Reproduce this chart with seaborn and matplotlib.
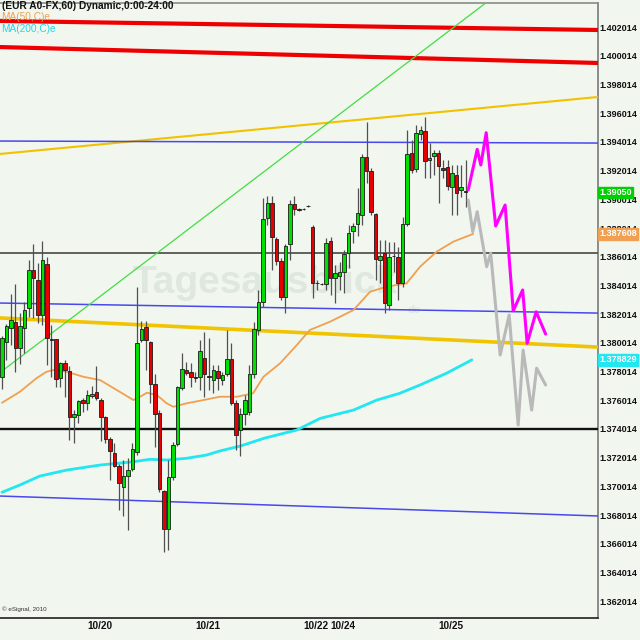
import matplotlib
matplotlib.use("Agg")
import matplotlib.pyplot as plt
import numpy as np
import pandas as pd
import seaborn as sns

# hourly EUR/USD bars (oldest first)
opens = [1.37763, 1.38007, 1.38105, 1.38147, 1.37965, 1.38105, 1.38244, 1.38509, 1.38439, 1.38196,
         1.38551, 1.38028, 1.38028, 1.37756, 1.37861, 1.37805, 1.37484, 1.37498, 1.37603, 1.37582,
         1.37631, 1.37659, 1.37603, 1.37484, 1.37331, 1.37234, 1.37143, 1.36997, 1.37073, 1.37122,
         1.37241, 1.38021, 1.38112, 1.38007, 1.37715, 1.37512, 1.36969, 1.36704, 1.37066, 1.37296,
         1.37687, 1.37812, 1.37798, 1.37763, 1.37763, 1.37896, 1.37770, 1.37742, 1.37805, 1.37742,
         1.37784, 1.37889, 1.37582, 1.37394, 1.37505, 1.37519, 1.37784, 1.38091, 1.38286, 1.38872,
         1.38976, 1.38725, 1.38572, 1.38321, 1.38690, 1.38969, 1.38934, 1.38934, 1.38955, 1.38809,
         1.38419, 1.38412, 1.38412, 1.38711, 1.38453, 1.38467, 1.38495, 1.38628, 1.38781, 1.38830,
         1.38892, 1.39297, 1.39199, 1.38899, 1.38579, 1.38628, 1.38265, 1.38607, 1.38600, 1.38419,
         1.38830, 1.39325, 1.39213, 1.39457, 1.39478, 1.39276, 1.39304, 1.39325, 1.39220, 1.39227,
         1.39088, 1.39171, 1.39067, 1.39060]
highs = [1.38049, 1.38133, 1.38342, 1.38412, 1.38209, 1.38286, 1.38579, 1.38690, 1.38558, 1.38711,
         1.38600, 1.38126, 1.38028, 1.37868, 1.37882, 1.37840, 1.37533, 1.37603, 1.37617, 1.37673,
         1.37701, 1.37840, 1.37617, 1.37491, 1.37345, 1.37303, 1.37157, 1.37185, 1.37199, 1.37303,
         1.38391, 1.38154, 1.38154, 1.38014, 1.37784, 1.37533, 1.36976, 1.37185, 1.37310, 1.37701,
         1.37931, 1.37868, 1.37861, 1.37798, 1.38021, 1.38077, 1.38035, 1.37847, 1.37847, 1.37798,
         1.38091, 1.38000, 1.37603, 1.37547, 1.37638, 1.37847, 1.38147, 1.38370, 1.39011, 1.39025,
         1.39025, 1.38739, 1.38593, 1.38690, 1.38997, 1.39025, 1.38941, 1.38941, 1.38962, 1.38823,
         1.38439, 1.38419, 1.38732, 1.38739, 1.38544, 1.38565, 1.38649, 1.38823, 1.38837, 1.39081,
         1.39318, 1.39541, 1.39220, 1.38906, 1.38718, 1.38718, 1.38704, 1.38704, 1.38669, 1.38879,
         1.39485, 1.39415, 1.39520, 1.39513, 1.39576, 1.39394, 1.39346, 1.39346, 1.39276, 1.39276,
         1.39241, 1.39241, 1.39241, 1.39276]
lows = [1.37680, 1.37882, 1.37986, 1.37798, 1.37854, 1.37931, 1.38182, 1.38175, 1.38140, 1.38126,
        1.37847, 1.37763, 1.37694, 1.37694, 1.37624, 1.37324, 1.37303, 1.37443, 1.37519, 1.37533,
        1.37617, 1.37603, 1.37317, 1.37303, 1.37045, 1.37136, 1.36836, 1.36795, 1.36697, 1.37108,
        1.37220, 1.38007, 1.37812, 1.37582, 1.37275, 1.36962, 1.36544, 1.36558, 1.37045, 1.37282,
        1.37673, 1.37777, 1.37694, 1.37728, 1.37673, 1.37624, 1.37673, 1.37652, 1.37673, 1.37708,
        1.37770, 1.37568, 1.37255, 1.37213, 1.37429, 1.37498, 1.37756, 1.38056, 1.38251, 1.38823,
        1.38509, 1.38544, 1.38300, 1.38209, 1.38579, 1.38892, 1.38920, 1.38927, 1.38948, 1.38314,
        1.38370, 1.38405, 1.38370, 1.38335, 1.38279, 1.38370, 1.38349, 1.38523, 1.38697, 1.38746,
        1.38823, 1.39116, 1.38892, 1.38439, 1.38419, 1.38209, 1.38230, 1.38495, 1.38300, 1.38391,
        1.38816, 1.39185, 1.39192, 1.39415, 1.39150, 1.39150, 1.39171, 1.38976, 1.39150, 1.39067,
        1.38892, 1.38892, 1.39018, 1.38948]
closes = [1.38035, 1.38119, 1.38161, 1.37965, 1.38119, 1.38230, 1.38509, 1.38453, 1.38196, 1.38579,
          1.38035, 1.38021, 1.37749, 1.37861, 1.37812, 1.37484, 1.37505, 1.37596, 1.37582, 1.37638,
          1.37645, 1.37617, 1.37484, 1.37331, 1.37248, 1.37143, 1.37025, 1.37073, 1.37115, 1.37262,
          1.38000, 1.38098, 1.38021, 1.37715, 1.37505, 1.36983, 1.36704, 1.37066, 1.37289, 1.37694,
          1.37819, 1.37791, 1.37763, 1.37756, 1.37945, 1.37784, 1.37763, 1.37812, 1.37756, 1.37777,
          1.37889, 1.37582, 1.37359, 1.37505, 1.37603, 1.37784, 1.38098, 1.38286, 1.38865, 1.38976,
          1.38739, 1.38572, 1.38321, 1.38676, 1.38969, 1.38934, 1.38927, 1.38934, 1.38955, 1.38419,
          1.38419, 1.38412, 1.38697, 1.38453, 1.38488, 1.38495, 1.38621, 1.38767, 1.38816, 1.38906,
          1.39297, 1.39199, 1.38913, 1.38586, 1.38607, 1.38279, 1.38600, 1.38607, 1.38419, 1.38830,
          1.39318, 1.39206, 1.39464, 1.39485, 1.39269, 1.39290, 1.39325, 1.39234, 1.39206, 1.39095,
          1.39185, 1.39046, 1.39088, 1.39050]

# moving averages (bar position, value)
ma50_pos = [0, 4, 7.7, 9.9, 11.4, 14.4, 18.1, 21.8, 25.5, 29.2, 30.7, 32.2, 34.4, 36.6, 38.1, 41,
            44, 48.4, 52.2, 55.8, 58.1, 61.8, 65.5, 68.4, 72.9, 78.1, 81.8, 85.5, 89.9, 92.9,
            96.6, 100.3, 104.7]
ma50_val = [1.37584, 1.37661, 1.37756, 1.37800, 1.37812, 1.37800, 1.37765, 1.37742, 1.37673,
            1.37603, 1.37626, 1.37654, 1.37638, 1.37580, 1.37556, 1.37580, 1.37598, 1.37626,
            1.37626, 1.37650, 1.37765, 1.37859, 1.37986, 1.38091, 1.38149, 1.38230, 1.38358,
            1.38393, 1.38416, 1.38532, 1.38637, 1.38707, 1.387608]
ma200_pos = [0, 4, 8.4, 14.4, 21.8, 29.2, 32.9, 36.6, 41, 45.5, 48.4, 52.9, 58.4, 65.5, 70.7,
             78.1, 83.3, 88.4, 92.9, 98.8, 104.4]
ma200_val = [1.36960, 1.37011, 1.37073, 1.37115, 1.37150, 1.37173, 1.37190, 1.37185, 1.37197,
             1.37220, 1.37248, 1.37282, 1.37338, 1.37394, 1.37475, 1.37533, 1.37603, 1.37650,
             1.37708, 1.37790, 1.378829]

# forecast paths
fc_pos_main = [103.6, 105.6, 106.4, 107.6, 109.7, 111.8, 113.6, 115.7, 116.7, 118.7, 120.8]
fc_main = [1.39067, 1.39350, 1.39241, 1.39466, 1.38816, 1.38962, 1.38225, 1.38370, 1.37998,
           1.38218, 1.38063]
fc_pos_alt = [103.6, 104.6, 105.6, 107.7, 108.6, 110.7, 112.7, 114.7, 115.8, 117.7, 118.8, 120.8]
fc_alt = [1.38997, 1.38776, 1.38916, 1.38532, 1.38626, 1.37917, 1.38196, 1.37429, 1.37951,
          1.37533, 1.37825, 1.37708]

# drawn lines: price at left edge, price at right edge
red_upper = [1.40245, 1.40182]
red_lower = [1.40063, 1.39952]
gold_upper = [1.39318, 1.39715]
gold_lower = [1.38175, 1.37972]
blue_upper = [1.39408, 1.39394]
blue_mid = [1.38279, 1.38209]
blue_low = [1.36934, 1.36795]
grey_level = 1.38628
black_level = 1.37401
green_trend_pos = [0.5, 110]
green_trend_val = [1.37817, 1.40430]

date_pos = [19, 43, 67, 73, 97]
date_labels = ["10/20", "10/21", "10/22", "10/24", "10/25"]
ytick_labels = ["1.362014", "1.364014", "1.366014", "1.368014", "1.370014", "1.372014",
                "1.374014", "1.376014", "1.378014", "1.380014", "1.382014", "1.384014",
                "1.386014", "1.388014", "1.390014", "1.392014", "1.394014", "1.396014",
                "1.398014", "1.400014", "1.402014"]

bg = "#f1f6ef"
sns.set_style("white")
plt.rcParams["font.family"] = ["Liberation Sans Narrow", "Liberation Sans", "DejaVu Sans"]

fig = plt.figure(figsize=(6.4, 6.4), dpi=100, facecolor=bg)
ax = fig.add_axes([0, 1 - 618 / 640, 598 / 640, 615 / 640])
ax.set_facecolor(bg)
xmin, xmax = -0.44, 132.44
ax.set_xlim(xmin, xmax)
ax.set_ylim(1.36084, 1.40370)

# watermark
ax.text(29, 1.3842, "Tagesausblick", fontsize=28, fontweight="bold", color="#dfe8de",
        va="center", ha="left", zorder=1, family=["Liberation Sans", "DejaVu Sans"])
ax.text(90, 1.3821, "de", fontsize=8, fontweight="bold", color="#dfe8de", zorder=1)

# support / resistance lines
edges = [xmin, xmax]
ax.plot(edges, red_upper, color="#ee0000", lw=3, zorder=3)
ax.plot(edges, red_lower, color="#ee0000", lw=3, zorder=3)
ax.plot(edges, gold_upper, color="#f2c200", lw=1.5, zorder=3)
ax.plot(edges, gold_lower, color="#f0c400", lw=2.6, zorder=3)
for lv in (blue_upper, blue_mid, blue_low):
    ax.plot(edges, lv, color="#4848ee", lw=1.1, zorder=3)
ax.axhline(grey_level, color="#555555", lw=1.3, zorder=3)
ax.axhline(black_level, color="#111111", lw=1.7, zorder=3)
ax.plot(green_trend_pos, green_trend_val, color="#44dd44", lw=0.9, zorder=3)

# moving averages
sns.lineplot(x=ma50_pos, y=ma50_val, ax=ax, color="#f0a050", lw=1.3, estimator=None, sort=False, zorder=3)
sns.lineplot(x=ma200_pos, y=ma200_val, ax=ax, color="#22e6f0", lw=2, estimator=None, sort=False, zorder=3)

# candles
bars = pd.DataFrame({"open": opens, "high": highs, "low": lows, "close": closes})
bars["pos"] = np.arange(len(bars))
ax.vlines(bars["pos"], bars["low"], bars["high"], color="#505050", lw=0.9, zorder=4)
body_lo = bars[["open", "close"]].min(axis=1)
body_h = (bars["close"] - bars["open"]).abs().clip(lower=0.00002)
colors = np.where(bars["close"] > bars["open"], "#00e000",
                  np.where(bars["close"] < bars["open"], "#e80000", "#202020"))
ax.bar(bars["pos"], body_h, bottom=body_lo, width=0.72, color=colors,
       edgecolor="#1a1a1a", linewidth=0.6, zorder=5)

# forecasts
sns.lineplot(x=fc_pos_alt, y=fc_alt, ax=ax, color="#b9b9b9", lw=2.2, estimator=None, sort=False, zorder=6)
sns.lineplot(x=fc_pos_main, y=fc_main, ax=ax, color="#ff00ff", lw=2.2, estimator=None, sort=False, zorder=6)

# axes styling
ax.spines["left"].set_visible(False)
ax.spines["right"].set_color("#7a7a7a")
ax.spines["right"].set_linewidth(1.2)
ax.spines["top"].set_color("#8a8a8a")
ax.spines["top"].set_linewidth(1.2)
ax.spines["bottom"].set_color("#202020")
ax.spines["bottom"].set_linewidth(1.2)

ax.yaxis.tick_right()
ax.set_yticks([float(t) for t in ytick_labels])
ax.set_yticklabels(ytick_labels, fontsize=6.5, fontweight="bold", color="#111111")
ax.tick_params(axis="y", length=0, pad=1)
ax.set_xticks(date_pos)
ax.set_xticklabels(date_labels, fontsize=7.2, fontweight="bold", color="#111111", ha="left")
ax.tick_params(axis="x", direction="in", length=4, color="#202020", pad=2)
ax.set_xlabel("")
ax.set_ylabel("")
ax.grid(False)

# value boxes on the price axis
for val, txt, col in [(closes[-1], "1.39050", "#00d000"),
                      (ma50_val[-1], "1.387608", "#f0a050"),
                      (ma200_val[-1], "1.378829", "#22e6f0")]:
    ax.annotate(txt, xy=(1.0, val), xycoords=("axes fraction", "data"), xytext=(1, 0),
                textcoords="offset points", va="center", ha="left", fontsize=6.5,
                fontweight="bold", color="white", zorder=10, annotation_clip=False,
                bbox=dict(boxstyle="square,pad=0.15", fc=col, ec=col))

# header texts
fig.text(2 / 640, 1 - 6 / 640, "(EUR A0-FX,60) Dynamic,0:00-24:00", fontsize=7.3,
         fontweight="bold", color="#111111", va="center", ha="left")
fig.text(1 / 640, 1 - 17 / 640, "MA(50,C)e", fontsize=7.3, color="#f0a050", va="center", ha="left")
fig.text(1 / 640, 1 - 29 / 640, "MA(200,C)e", fontsize=7.3, color="#22d8e8", va="center", ha="left")
fig.text(2 / 640, 1 - 609 / 640, "\u00a9 eSignal, 2010", fontsize=4.5, color="#333333",
         va="center", ha="left")

fig.savefig("out.png", dpi=100, facecolor=bg)
